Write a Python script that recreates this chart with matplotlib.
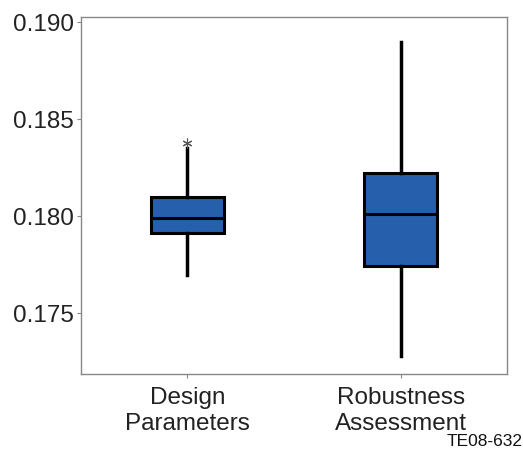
import matplotlib
matplotlib.use('Agg')
import matplotlib.pyplot as plt

plt.rcParams['font.family'] = ['Liberation Sans', 'DejaVu Sans']

# box statistics
labels = ['Design\nParameters', 'Robustness\nAssessment']
q1 = [0.17912, 0.17745]
med = [0.17990, 0.18012]
q3 = [0.18098, 0.18222]
whislo = [0.17697, 0.17280]
whishi = [0.18350, 0.18897]
fliers = [[0.18376], []]

stats = []
for i in range(len(labels)):
    stats.append(dict(label=labels[i], q1=q1[i], med=med[i], q3=q3[i],
                      whislo=whislo[i], whishi=whishi[i], fliers=fliers[i]))

fig = plt.figure(figsize=(5.23, 4.5), dpi=100)
ax = fig.add_axes([0.1543, 0.1682, 0.8157, 0.7948])

ax.bxp(stats, positions=[1, 2], widths=0.342, patch_artist=True, showcaps=False,
       boxprops=dict(facecolor='#2660AC', edgecolor='black', linewidth=2.2),
       medianprops=dict(color='black', linewidth=2.2),
       whiskerprops=dict(color='black', linewidth=2.5),
       flierprops=dict(marker=(6, 2, 0), markersize=7, markeredgewidth=0.8,
                       markeredgecolor='#555555', linestyle='none'))

ax.set_xlim(0.5, 2.5)
ax.set_ylim(0.17186, 0.19029)
ax.set_yticks([0.175, 0.180, 0.185, 0.190])
ax.set_yticklabels(['0.175', '0.180', '0.185', '0.190'])
ax.tick_params(axis='y', labelsize=17.5, length=3, color='#888888',
               labelcolor='#222222', pad=2)
ax.tick_params(axis='x', labelsize=17.5, length=3, color='#888888',
               labelcolor='#222222', pad=6)
for lab in ax.get_xticklabels():
    lab.set_linespacing(1.25)
for s in ax.spines.values():
    s.set_color('#888888')
    s.set_linewidth(1.0)

fig.text(0.999, 0.019, 'TE08-632', ha='right', va='center', fontsize=12.5,
         color='#111111')

fig.savefig('out.png', dpi=100)
